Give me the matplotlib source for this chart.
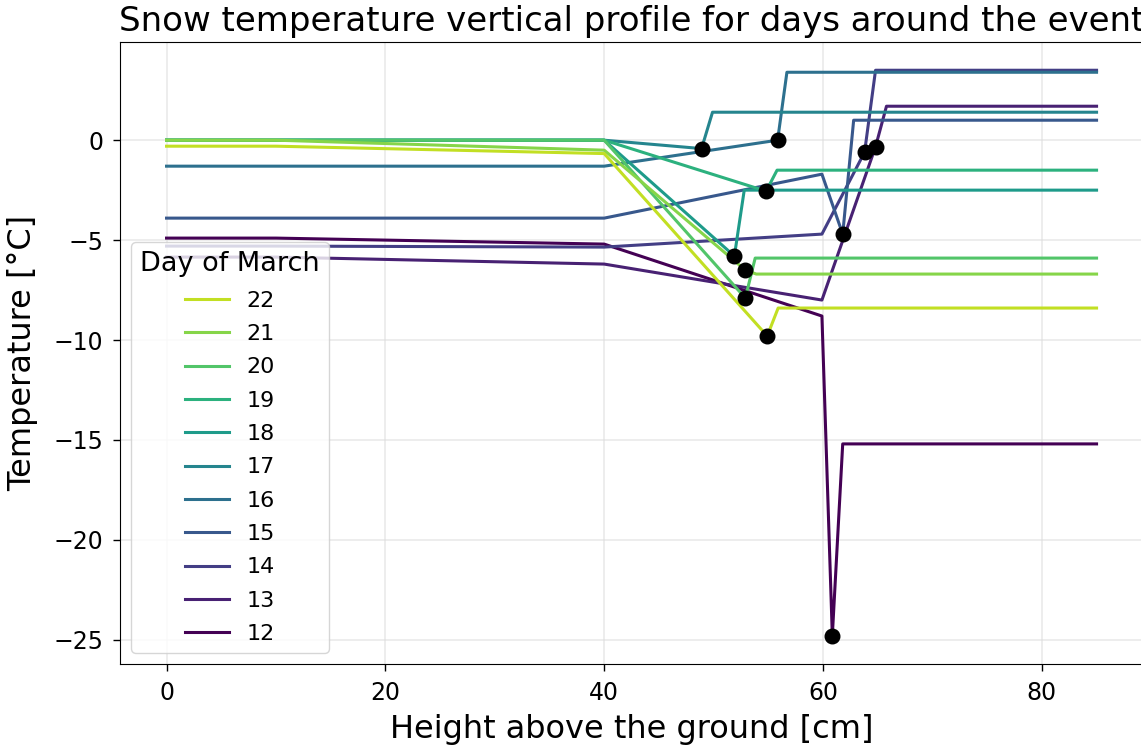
import numpy as np
import matplotlib
matplotlib.use("Agg")
import matplotlib.pyplot as plt

# Days of March and their measured profiles (height in cm, temperature in °C)
days = [12, 13, 14, 15, 16, 17, 18, 19, 20, 21, 22]

height_12 = [0, 10, 40, 59.9, 60.85, 61.8, 85]
temp_12 = [-4.9, -4.9, -5.2, -8.8, -24.8, -15.2, -15.2]

height_13 = [0, 10, 40, 59.9, 64.8, 65.8, 85]
temp_13 = [-5.85, -5.85, -6.2, -8.0, -0.33, 1.7, 1.7]

height_14 = [0, 10, 40, 59.9, 63.8, 64.8, 85]
temp_14 = [-5.3, -5.3, -5.35, -4.7, -0.6, 3.5, 3.5]

height_15 = [0, 10, 40, 59.9, 61.8, 62.8, 85]
temp_15 = [-3.9, -3.9, -3.9, -1.7, -4.7, 1.0, 1.0]

height_16 = [0, 10, 40, 55.85, 56.7, 85]
temp_16 = [-1.3, -1.3, -1.3, 0.0, 3.4, 3.4]

height_17 = [0, 10, 40, 48.9, 49.9, 85]
temp_17 = [0.0, 0.0, 0.0, -0.42, 1.4, 1.4]

height_18 = [0, 10, 40, 51.9, 52.8, 85]
temp_18 = [0.0, 0.0, 0.0, -5.8, -2.5, -2.5]

height_19 = [0, 10, 40, 54.8, 55.8, 85]
temp_19 = [0.0, 0.0, 0.0, -2.55, -1.5, -1.5]

height_20 = [0, 10, 40, 52.9, 53.8, 85]
temp_20 = [0.0, 0.0, 0.0, -7.9, -5.9, -5.9]

height_21 = [0, 10, 40, 52.9, 53.9, 85]
temp_21 = [0.0, 0.0, -0.5, -6.5, -6.7, -6.7]

height_22 = [0, 10, 40, 54.9, 55.9, 85]
temp_22 = [-0.3, -0.3, -0.67, -9.8, -8.4, -8.4]

# Snow surface (height, temperature) for each day
surface_height = [60.85, 64.8, 63.8, 61.8, 55.85, 48.9, 51.9, 54.8, 52.9, 52.9, 54.9]
surface_temp = [-24.8, -0.33, -0.6, -4.7, 0.0, -0.42, -5.8, -2.55, -7.9, -6.5, -9.8]

heights = [height_12, height_13, height_14, height_15, height_16, height_17,
           height_18, height_19, height_20, height_21, height_22]
temps = [temp_12, temp_13, temp_14, temp_15, temp_16, temp_17,
         temp_18, temp_19, temp_20, temp_21, temp_22]

colors = plt.cm.viridis(np.linspace(0, 0.91, len(days)))

fig = plt.figure(figsize=(11.41, 7.47), dpi=100)
ax = fig.add_axes([0.1052, 0.1111, 0.8966, 0.8327])

handles = []
for day, h, t, c in zip(days, heights, temps, colors):
    line, = ax.plot(h, t, color=c, lw=2.2, label=str(day))
    handles.append(line)

ax.scatter(surface_height, surface_temp, s=110, color="black", zorder=3)

ax.grid(True, color="#dddddd", alpha=0.6, lw=1.2)
ax.set_xticks([0, 20, 40, 60, 80])
ax.set_yticks([0, -5, -10, -15, -20, -25])
ax.tick_params(labelsize=17, length=5, width=1, pad=7)

ax.set_xlabel("Height above the ground [cm]", fontsize=23, labelpad=7)
ax.set_ylabel("Temperature [°C]", fontsize=23, labelpad=11)
ax.set_title("Snow temperature vertical profile for days around the event",
             fontsize=24.5, pad=8)

ax.legend(handles=handles[::-1], title="Day of March", loc="lower left",
          fontsize=16, title_fontsize=19.5, handlelength=2.0, labelspacing=0.6)

fig.savefig("out.png", dpi=100)
